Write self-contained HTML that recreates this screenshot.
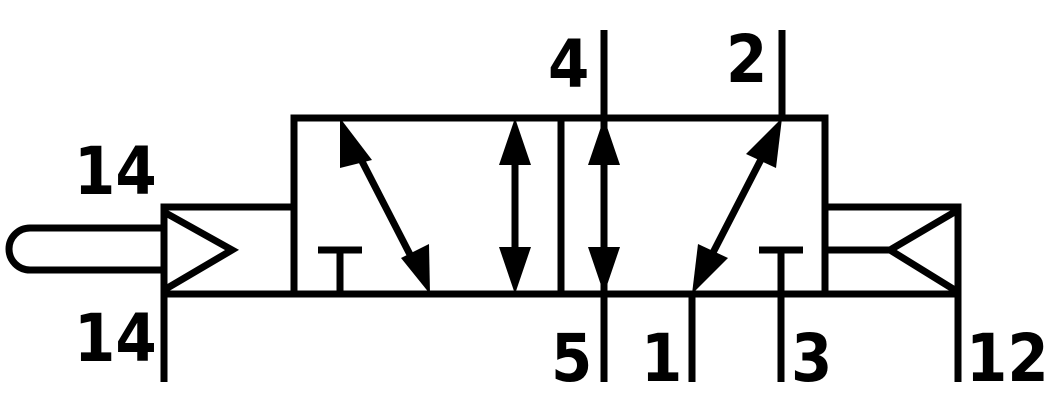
<!DOCTYPE html>
<html><head><meta charset="utf-8"><style>
html,body{margin:0;padding:0;background:#fff;}
svg{display:block;}
text{font-family:"DejaVu Sans Condensed","Liberation Sans Narrow","Liberation Sans",sans-serif;font-weight:bold;font-size:66px;fill:#000;}
</style></head><body>
<svg width="1056" height="411" viewBox="0 0 1056 411" xmlns="http://www.w3.org/2000/svg">
<g stroke="#000" stroke-width="7" fill="none" stroke-linecap="butt">
<rect x="294" y="118" width="531" height="176"/>
<line x1="561" y1="118" x2="561" y2="294"/>
<line x1="604" y1="30" x2="604" y2="382"/>
<line x1="782" y1="30" x2="782" y2="118"/>
<line x1="692" y1="294" x2="692" y2="382"/>
<line x1="781" y1="294" x2="781" y2="382"/>
<line x1="164" y1="294" x2="164" y2="382"/>
<line x1="958" y1="294" x2="958" y2="382"/>
<line x1="318" y1="250" x2="362" y2="250"/>
<line x1="340" y1="250" x2="340" y2="294"/>
<line x1="759" y1="250" x2="803" y2="250"/>
<line x1="781" y1="250" x2="781" y2="294"/>
<line x1="350" y1="138" x2="420" y2="274"/>
<line x1="515" y1="150" x2="515" y2="262"/>
<line x1="604" y1="150" x2="604" y2="262"/>
<line x1="772" y1="138" x2="702" y2="274"/>
<polyline points="294,207 164,207 164,294 294,294"/>
<polyline points="164,212 232,250 164,290"/>
<path d="M164,228 L30,228 A21,21 0 0 0 30,270 L164,270"/>
<polyline points="825,207 958,207 958,294 825,294"/>
<line x1="825" y1="250" x2="890" y2="250"/>
<polyline points="958,210 890,250 958,292"/>
</g>
<g fill="#000">
<polygon points="340,118 372,160 340,168"/>
<polygon points="430,294 401,258 429,244"/>
<polygon points="515,118 499,165 531,165"/>
<polygon points="515,294 499,247 531,247"/>
<polygon points="604,118 588,165 620,165"/>
<polygon points="604,294 588,247 620,247"/>
<polygon points="782,118 776,168 746,154"/>
<polygon points="692,294 698,244 728,258"/>
</g>
<text x="74" y="194">14</text>
<text x="74" y="361">14</text>
<text x="548" y="87">4</text>
<text x="726" y="82">2</text>
<text x="551" y="381">5</text>
<text x="641" y="381">1</text>
<text x="791" y="381">3</text>
<text x="966" y="381">12</text>
</svg>
</body></html>
